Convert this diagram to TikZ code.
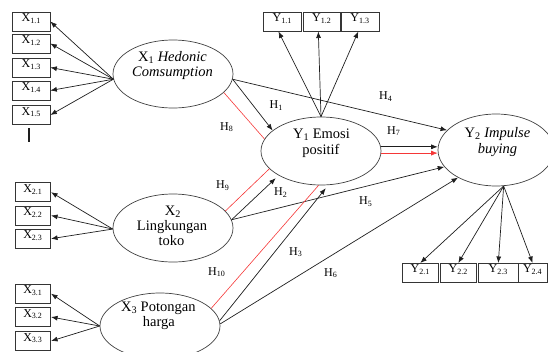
\documentclass[tikz,border=0pt]{standalone}
\usepackage{fontspec}
\setmainfont{Liberation Serif}
\usetikzlibrary{shapes.geometric,arrows.meta,calc}

\definecolor{ink}{RGB}{30,30,30}
\definecolor{hred}{RGB}{245,55,55}

\begin{document}
\begin{tikzpicture}[x=1pt,y=-1pt,
  latent/.style={draw=ink!85, line width=0.7pt, ellipse, inner sep=0pt},
  ind/.style={draw=ink!90, line width=0.6pt, rectangle, inner sep=0pt,
    minimum width=37pt, minimum height=19pt, text height=6pt, text depth=6pt,
    font=\fontsize{12}{14}\selectfont},
  lbl/.style={font=\fontsize{14.5}{15}\selectfont, anchor=base, inner sep=0pt},
  hyp/.style={font=\fontsize{12}{14}\selectfont, anchor=base west, inner sep=0pt},
  tipA/.style={-{Latex[length=6.5pt,width=5pt]}},
  arr/.style={draw=ink, line width=0.7pt, tipA},
  rline/.style={draw=hred, line width=0.6pt},
]
\useasboundingbox (0,0) rectangle (548,351);

% latent constructs
\node[latent, minimum width=120pt, minimum height=68pt] (x1) at (173,74) {};
\node[latent, minimum width=120pt, minimum height=68pt] (x2) at (173,228) {};
\node[latent, minimum width=120pt, minimum height=66pt] (x3) at (160,326) {};
\node[latent, minimum width=120pt, minimum height=68pt] (y1) at (321,151) {};
\node[latent, minimum width=116pt, minimum height=72pt] (y2) at (496,150) {};

% construct names
\node[lbl] (x1a) at (172.5,61.7) {X\textsubscript{1} \textit{Hedonic}};
\node[lbl] (x1b) at (172.5,76) {\textit{Comsumption}};
\node[lbl] (y1a) at (321.5,138.5) {Y\textsubscript{1} Emosi};
\node[lbl] (y1b) at (321,154) {positif};
\node[lbl] (y2a) at (497.5,137.5) {Y\textsubscript{2} \textit{Impulse}};
\node[lbl] (y2b) at (497.5,153) {\textit{buying}};
\node[lbl] (x2a) at (173,215) {X\textsubscript{2}};
\node[lbl] (x2b) at (172,230.7) {Lingkungan};
\node[lbl] (x2c) at (171.5,245) {toko};
\node[lbl] (x3a) at (158.3,311.5) {X\textsubscript{3} Potongan};
\node[lbl] (x3b) at (158.8,326.7) {harga};

% indicators of X1
\node[ind, minimum width=37.7pt] (x11) at (31.2,21.5) {X\textsubscript{1.1}};
\node[ind, minimum width=37.7pt] (x12) at (31.2,43.5) {X\textsubscript{1.2}};
\node[ind, minimum width=37.7pt] (x13) at (31.2,67.5) {X\textsubscript{1.3}};
\node[ind, minimum width=37.7pt] (x14) at (31.2,90.5) {X\textsubscript{1.4}};
\node[ind, minimum width=37.7pt] (x15) at (31.2,115) {X\textsubscript{1.5}};
% indicators of X2
\node[ind, minimum width=35.7pt] (x21) at (32.9,192.2) {X\textsubscript{2.1}};
\node[ind, minimum width=35.7pt] (x22) at (32.9,215.5) {X\textsubscript{2.2}};
\node[ind, minimum width=35.7pt] (x23) at (32.9,238.7) {X\textsubscript{2.3}};
% indicators of X3
\node[ind, minimum width=35.7pt] (x31) at (32.9,293.7) {X\textsubscript{3.1}};
\node[ind, minimum width=35.7pt] (x32) at (32.9,317) {X\textsubscript{3.2}};
\node[ind, minimum width=35.7pt] (x33) at (32.9,341) {X\textsubscript{3.3}};
% indicators of Y1
\node[ind, minimum width=37.7pt] (y11) at (282.2,21.7) {Y\textsubscript{1.1}};
\node[ind, minimum width=36.7pt] (y12) at (321.7,21.7) {Y\textsubscript{1.2}};
\node[ind, minimum width=38pt] (y13) at (360,21.7) {Y\textsubscript{1.3}};
% indicators of Y2
\node[ind, minimum width=36pt] (y21) at (420.3,272.8) {Y\textsubscript{2.1}};
\node[ind, minimum width=36.7pt] (y22) at (458.3,272.8) {Y\textsubscript{2.2}};
\node[ind, minimum width=40pt] (y23) at (498.3,272.8) {Y\textsubscript{2.3}};
\node[ind, minimum width=28.7pt] (y24) at (532.6,272.8) {Y\textsubscript{2.4}};

% short mark under X1.5
\draw[ink, line width=1.5pt] (29,128.3) -- (29,141.7);

% loadings
\foreach \b in {x11,x12,x13,x14,x15} \draw[arr] (x1.185) -- (\b.east);
\foreach \b in {x21,x22,x23} \draw[arr] (x2.181) -- (\b.east);
\foreach \b in {x31,x32,x33} \draw[arr] (x3.180) -- (\b.east);
\draw[arr] (y1.90) -- (y11.249);
\draw[arr] (y1.90) -- (y12.251);
\draw[arr] (y1.90) -- (y13.260);
\foreach \b in {y21,y22,y23,y24} \draw[arr] (y2.282) -- (\b.north);

% structural paths
\draw[rline] (x1.340) -- (y1.168);
\draw[arr] (x1.355) -- (y1.157);
\draw[arr] (x1.355) -- (y2.158);
\draw[arr] (y1.4) -- (y1.4 -| y2.west);
\draw[rline, tipA] (y1.358) -- (y1.358 -| y2.west);
\draw[rline] (x2.18) -- (y1.199);
\draw[arr, shorten >=4pt] (x2.8) -- (y1.210);
\draw[arr] (x2.8) -- (y2.198);
\draw[rline] (x3.19) -- (y1.266);
\draw[arr, shorten >=4pt] (x3.5) -- (y1.282);
\draw[arr] (x3.2) -- (y2.216);

% hypothesis labels
\node[hyp] (h1) at (269.5,108.5) {H\textsubscript{1}};
\node[hyp] (h8) at (220,130) {H\textsubscript{8}};
\node[hyp] (h4) at (379,99.5) {H\textsubscript{4}};
\node[hyp] (h7) at (387,134) {H\textsubscript{7}};
\node[hyp] (h9) at (216,188.5) {H\textsubscript{9}};
\node[hyp] (h2) at (274,195.5) {H\textsubscript{2}};
\node[hyp] (h5) at (359,204.5) {H\textsubscript{5}};
\node[hyp] (h10) at (208,275) {H\textsubscript{10}};
\node[hyp] (h3) at (289,255) {H\textsubscript{3}};
\node[hyp] (h6) at (324,276) {H\textsubscript{6}};
\end{tikzpicture}
\end{document}
